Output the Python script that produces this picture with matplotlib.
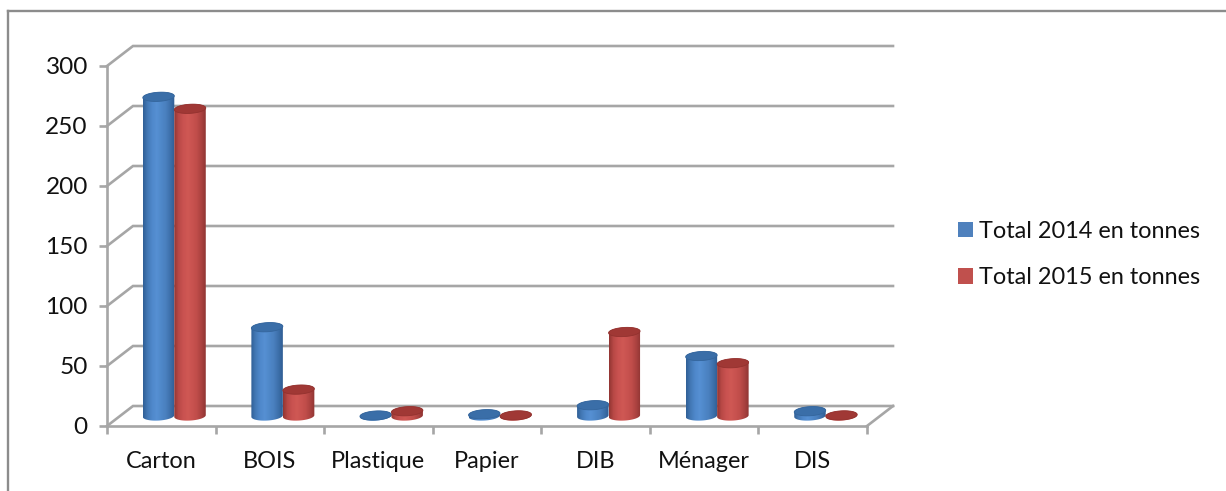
import numpy as np
import matplotlib
matplotlib.use("Agg")
import matplotlib.pyplot as plt
from matplotlib.colors import LinearSegmentedColormap
from matplotlib.lines import Line2D
from matplotlib.patches import PathPatch, Patch, Polygon
from matplotlib.path import Path

categories = ["Carton", "BOIS", "Plastique", "Papier", "DIB", "Ménager", "DIS"]
total_2014 = [266, 74, 0.4, 1.5, 9, 50, 4]
total_2015 = [256, 22, 4, 0.5, 70, 44, 0.5]
series_labels = ["Total 2014 en tonnes", "Total 2015 en tonnes"]
y_ticks = [0, 50, 100, 150, 200, 250, 300]

plt.rcParams["font.family"] = ["Lato", "DejaVu Sans"]

W, H = 1226, 491
GRID = "#a6a6a6"
TEXT = "#111111"
FS = 16.9

# Depth of the oblique floor, in category units and value units
DEPTH_X = 26 / (760 / 7)
DEPTH_Y = 20 / 1.2
BAR_W = 0.29
CAP_H = 7.6
TILT = 5.0  # value units of rise per category unit across an ellipse

fig = plt.figure(figsize=(W / 100, H / 100), dpi=100, facecolor="white")
ax = fig.add_axes([107 / W, (H - 426) / H, 760 / W, 360 / H])
ax.set_facecolor("none")


def ellipse_points(cx, cy, t):
    dx = BAR_W / 2 * np.cos(t)
    return np.column_stack([cx + dx, cy + CAP_H / 2 * np.sin(t) + TILT * dx])


def add_cylinder(cx, value, shades, cap_color, rim_color, z):
    base = DEPTH_Y / 2
    top = base + value
    lower = ellipse_points(cx, base, np.linspace(np.pi, 2 * np.pi, 60))
    upper = ellipse_points(cx, top, np.linspace(0, np.pi, 60))
    verts = np.vstack([lower, upper, lower[:1]])
    codes = [Path.MOVETO] + [Path.LINETO] * (len(verts) - 2) + [Path.CLOSEPOLY]
    body = PathPatch(Path(verts, codes), transform=ax.transData,
                     facecolor="none", edgecolor="none")
    ax.add_patch(body)
    cmap = LinearSegmentedColormap.from_list("body", shades)
    grad = np.linspace(0, 1, 128).reshape(1, -1)
    im = ax.imshow(grad, cmap=cmap, aspect="auto", zorder=z, clip_on=True,
                   extent=[cx - BAR_W / 2, cx + BAR_W / 2,
                           base - CAP_H, top + CAP_H], interpolation="bilinear")
    im.set_clip_path(body)
    ax.add_patch(Polygon(ellipse_points(cx, top, np.linspace(0, 2 * np.pi, 90)),
                         closed=True, facecolor=cap_color, edgecolor=rim_color,
                         linewidth=0.6, zorder=z + 0.1, clip_on=False))


BLUE_SHADES = ["#305f96", "#4379b6", "#4f88cb", "#5690d3", "#4f88c9", "#4a80bf", "#3d70ab", "#2f5d93"]
RED_SHADES = ["#923533", "#b94946", "#c95250", "#cf5854", "#c95350", "#c04d4a", "#ab4240", "#8f3432"]

# Back wall gridlines and their return to the front axis
for v in y_ticks:
    ax.plot([0, DEPTH_X, 7 + DEPTH_X], [v, v + DEPTH_Y, v + DEPTH_Y],
            color=GRID, lw=1.9, clip_on=False, zorder=1,
            solid_joinstyle="miter")
ax.plot([7, 7 + DEPTH_X], [0, DEPTH_Y], color=GRID, lw=1.9,
        clip_on=False, zorder=1)

centres = np.arange(len(categories)) + 0.5 + DEPTH_X / 2
offset = BAR_W / 2
for i, c in enumerate(centres):
    add_cylinder(c - offset, total_2014[i], BLUE_SHADES, "#3a6ea8", "#34659c", 3 + i * 0.01)
    add_cylinder(c + offset, total_2015[i], RED_SHADES, "#a03835", "#93322f", 3.5 + i * 0.01)

ax.set_xlim(0, 7)
ax.set_ylim(0, 300)
ax.set_yticks(y_ticks)
ax.set_xticks(np.arange(8))
ax.set_xticklabels([])
ax.set_xticks(np.arange(7) + 0.5, labels=categories, minor=True)
ax.tick_params(axis="both", which="major", length=5.8, width=1.9, color=GRID,
               labelsize=17.6, labelcolor=TEXT, pad=8)
ax.tick_params(axis="x", which="minor", length=0, labelsize=FS,
               labelcolor=TEXT, pad=18)
for side in ("top", "right"):
    ax.spines[side].set_visible(False)
for side in ("left", "bottom"):
    ax.spines[side].set_color(GRID)
    ax.spines[side].set_linewidth(1.9)

# Outer chart frame: only the top and left edges fall inside the canvas
fig.add_artist(Line2D([7.5 / W, 1], [1 - 10.5 / H] * 2, color="#8c8c8c", lw=1.7))
fig.add_artist(Line2D([7.5 / W] * 2, [0, 1 - 10.5 / H], color="#8c8c8c", lw=1.7))

handles = [Patch(facecolor="#4f81bd", edgecolor="none"),
           Patch(facecolor="#c0504d", edgecolor="none")]
fig.legend(handles, series_labels, loc="center left",
           bbox_to_anchor=(953.3 / W, 1 - 254.5 / H), frameon=False,
           fontsize=FS, labelcolor=TEXT, handlelength=0.64, handleheight=0.64,
           handletextpad=0.25, labelspacing=1.1, borderpad=0.2, borderaxespad=0)

fig.savefig("out.png", dpi=100, facecolor="white")
